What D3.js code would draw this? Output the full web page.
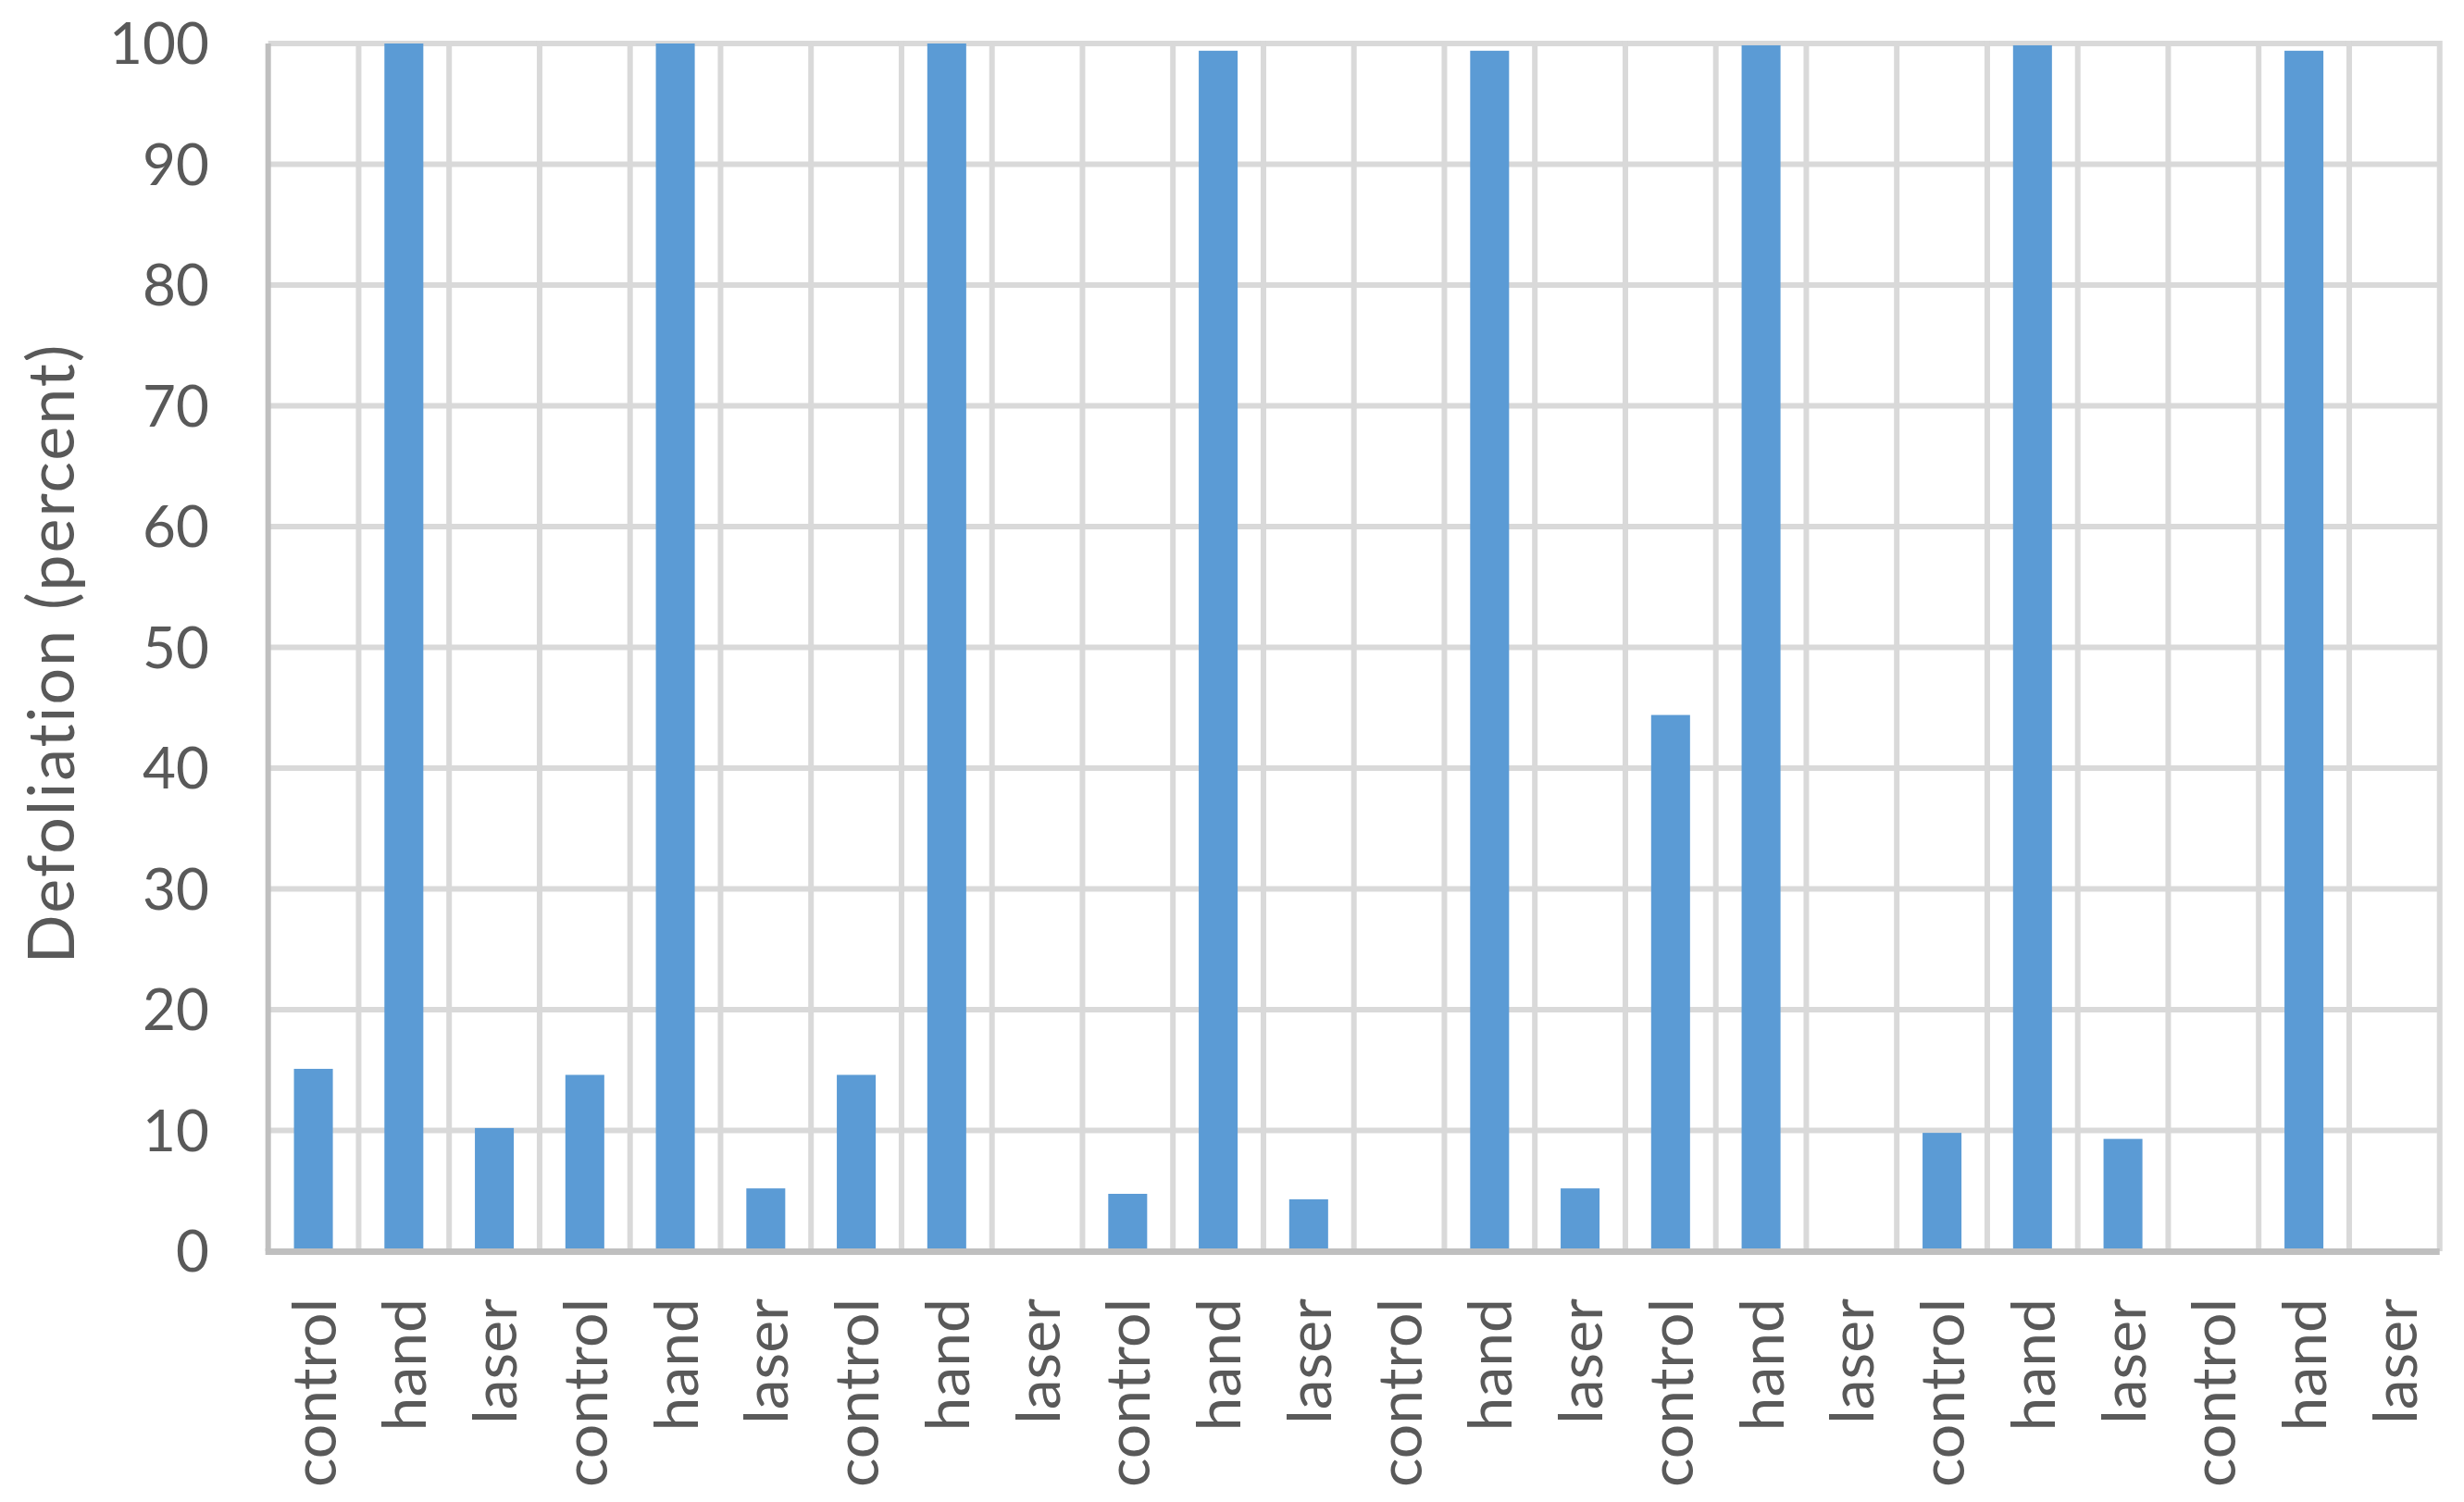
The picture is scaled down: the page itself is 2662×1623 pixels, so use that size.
<!DOCTYPE html>
<meta charset="utf-8">
<style>
  body { margin: 0; background: #fff; }
  text { font-family: Lato, "Open Sans", sans-serif; fill: #595959; }
</style>
<body>
<script src="https://d3js.org/d3.v7.min.js"></script>
<script>
// treatment per bar, left to right
var treatments = ["control", "hand", "laser", "control", "hand", "laser",
                  "control", "hand", "laser", "control", "hand", "laser",
                  "control", "hand", "laser", "control", "hand", "laser",
                  "control", "hand", "laser", "control", "hand", "laser"];
// defoliation (percent)
var defoliation = [15.1, 100, 10.2, 14.6, 100, 5.2,
                   14.6, 100, 0, 4.75, 99.4, 4.3,
                   0, 99.4, 5.2, 44.4, 99.85, 0,
                   9.8, 99.85, 9.3, 0, 99.4, 0];
var yTicks = [0, 10, 20, 30, 40, 50, 60, 70, 80, 90, 100];
var yTitle = "Defoliation (percent)";

var width = 2662,
    height = 1623;
// plot area edges (note: "top" is reserved on window)
var plotLeft = 289.7, plotRight = 2635.7, plotTop = 47, plotBottom = 1352;

var svg = d3.select("body").append("svg")
    .attr("width", width)
    .attr("height", height);

var x = d3.scaleBand()
    .domain(d3.range(treatments.length))
    .range([plotLeft, plotRight]);

var y = d3.scaleLinear()
    .domain([0, 100])
    .range([plotBottom, plotTop]);

var barW = x.bandwidth() * 0.43;

// horizontal gridlines
svg.append("g")
  .selectAll("line")
  .data(yTicks.filter(function(d) { return d > 0; }))
  .enter().append("line")
    .attr("x1", plotLeft)
    .attr("x2", plotRight)
    .attr("y1", function(d) { return y(d); })
    .attr("y2", function(d) { return y(d); })
    .attr("stroke", "#d9d9d9")
    .attr("stroke-width", 6);

// vertical gridlines between categories
svg.append("g")
  .selectAll("line")
  .data(d3.range(1, treatments.length + 1))
  .enter().append("line")
    .attr("x1", function(i) { return plotLeft + i * x.step(); })
    .attr("x2", function(i) { return plotLeft + i * x.step(); })
    .attr("y1", plotTop - 3)
    .attr("y2", plotBottom)
    .attr("stroke", "#d9d9d9")
    .attr("stroke-width", 6);

// bars
svg.append("g")
  .selectAll("rect")
  .data(defoliation)
  .enter().append("rect")
    .attr("x", function(d, i) { return x(i) + x.bandwidth() / 2 - barW / 2; })
    .attr("y", function(d) { return y(d); })
    .attr("width", barW)
    .attr("height", function(d) { return y(0) - y(d); })
    .attr("fill", "#5b9bd5");

// axis lines
svg.append("line")
    .attr("x1", plotLeft).attr("x2", plotLeft)
    .attr("y1", plotTop).attr("y2", plotBottom)
    .attr("stroke", "#bfbfbf")
    .attr("stroke-width", 6);
svg.append("line")
    .attr("x1", plotLeft - 3).attr("x2", plotRight)
    .attr("y1", y(0) + 0.5).attr("y2", y(0) + 0.5)
    .attr("stroke", "#bfbfbf")
    .attr("stroke-width", 7);

// y tick labels
svg.append("g")
  .selectAll("text")
  .data(yTicks)
  .enter().append("text")
    .attr("x", 226)
    .attr("y", function(d) { return y(d); })
    .attr("dy", "0.36em")
    .attr("text-anchor", "end")
    .style("font-size", "62px")
    .text(function(d) { return d; });

// x labels, rotated
svg.append("g")
  .selectAll("text")
  .data(treatments)
  .enter().append("text")
    .attr("transform", function(d, i) {
      return "translate(" + (x(i) + x.bandwidth() / 2 + 24) + ",1403)rotate(-90)";
    })
    .attr("text-anchor", "end")
    .style("font-size", "66px")
    .text(function(d) { return d; });

// y axis title
svg.append("text")
    .attr("transform", "translate(80,706)rotate(-90)")
    .attr("text-anchor", "middle")
    .style("font-size", "70px")
    .style("letter-spacing", "2px")
    .text(yTitle);
</script>
</body>
</html>
